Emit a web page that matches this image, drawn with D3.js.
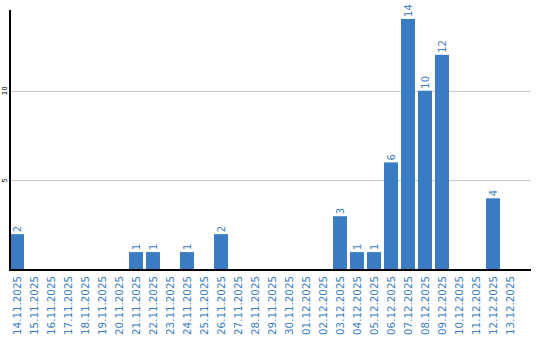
<!DOCTYPE html>
<html>
<head>
<meta charset="utf-8">
<script src="https://cdn.jsdelivr.net/npm/d3@7"></script>
<style>
  body { margin: 0; background: #fff; }
  text { font-family: "DejaVu Sans", sans-serif; }
</style>
</head>
<body>
<script>
let width = 540
let height = 340

let dates = ['14.11.2025', '15.11.2025', '16.11.2025', '17.11.2025', '18.11.2025',
  '19.11.2025', '20.11.2025', '21.11.2025', '22.11.2025', '23.11.2025',
  '24.11.2025', '25.11.2025', '26.11.2025', '27.11.2025', '28.11.2025',
  '29.11.2025', '30.11.2025', '01.12.2025', '02.12.2025', '03.12.2025',
  '04.12.2025', '05.12.2025', '06.12.2025', '07.12.2025', '08.12.2025',
  '09.12.2025', '10.12.2025', '11.12.2025', '12.12.2025', '13.12.2025']
let counts = [2, 0, 0, 0, 0, 0, 0, 1, 1, 0,
  1, 0, 2, 0, 0, 0, 0, 0, 0, 3,
  1, 1, 6, 14, 10, 12, 0, 0, 4, 0]
let yTicks = [5, 10]

let blue = '#3b7dc3'
let plotLeft = 10, plotRight = 531, plotTop = 10, plotBottom = 270

let svg = d3.select('body').append('svg')
  .attr('width', width)
  .attr('height', height)

let x = d3.scaleBand()
  .domain(dates)
  .range([plotLeft, 517])
  .paddingInner(3 / 17)
  .paddingOuter(0)

let y = d3.scaleLinear()
  .domain([0, 14.5])
  .range([plotBottom, plotTop])

// grid
svg.append('g')
  .selectAll('line')
  .data(yTicks)
  .join('line')
  .attr('x1', plotLeft)
  .attr('x2', plotRight)
  .attr('y1', d => Math.round(y(d)) + 0.5)
  .attr('y2', d => Math.round(y(d)) + 0.5)
  .style('stroke', '#cccccc')
  .style('stroke-width', 1)

// y tick labels
svg.append('g')
  .selectAll('text')
  .data(yTicks)
  .join('text')
  .attr('transform', d => 'translate(7,' + y(d) + ') rotate(-90)')
  .attr('text-anchor', 'middle')
  .style('font-size', '7px')
  .text(d => d)

// bars
svg.append('g')
  .selectAll('rect')
  .data(counts)
  .join('rect')
  .attr('x', (d, i) => x(dates[i]))
  .attr('y', d => y(d))
  .attr('width', x.bandwidth())
  .attr('height', d => plotBottom - y(d))
  .style('fill', blue)

// value labels
svg.append('g')
  .selectAll('text')
  .data(counts.map((d, i) => ({ d: d, i: i })).filter(o => o.d > 0))
  .join('text')
  .attr('transform', o => 'translate(' + (x(dates[o.i]) + x.bandwidth() / 2 + 3.5) + ',' + (y(o.d) - 2) + ') rotate(-90)')
  .style('font-size', '10px')
  .style('fill', blue)
  .text(o => o.d)

// x labels
let xAxis = d3.axisBottom(x).tickSize(0).tickPadding(0)
let gx = svg.append('g')
  .attr('transform', 'translate(0,' + plotBottom + ')')
  .call(xAxis)
gx.select('.domain').remove()
gx.selectAll('text')
  .attr('transform', 'rotate(-90)')
  .attr('x', -6)
  .attr('y', 0)
  .attr('dy', '0.35em')
  .attr('text-anchor', 'end')
  .style('font-family', '"DejaVu Sans", sans-serif')
  .style('font-size', '10.3px')
  .style('fill', blue)

// axis lines
svg.append('line')
  .attr('x1', plotLeft).attr('x2', plotLeft)
  .attr('y1', plotTop).attr('y2', plotBottom + 1)
  .style('stroke', '#000')
  .style('stroke-width', 2)

svg.append('line')
  .attr('x1', plotLeft).attr('x2', plotRight)
  .attr('y1', plotBottom).attr('y2', plotBottom)
  .style('stroke', '#000')
  .style('stroke-width', 2)
</script>
</body>
</html>
